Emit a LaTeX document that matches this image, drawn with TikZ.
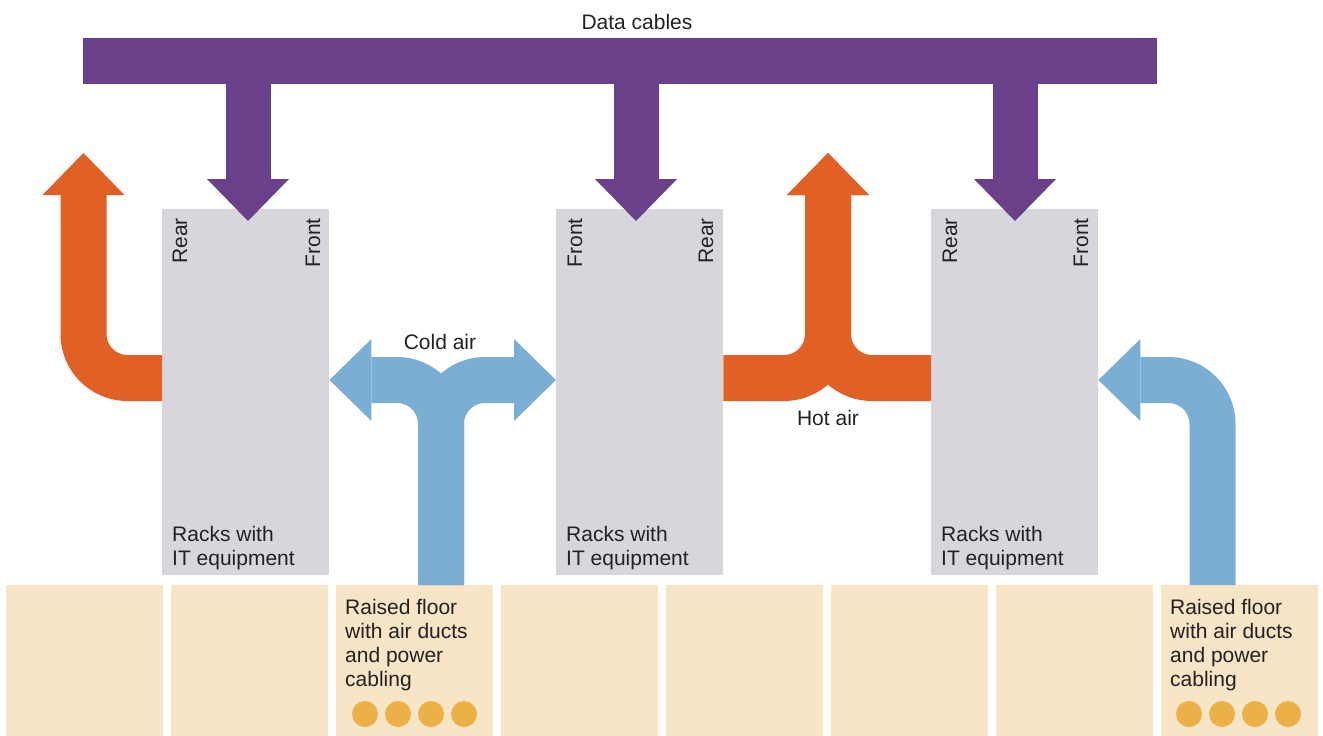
\documentclass[tikz,border=0pt]{standalone}
\usepackage{fontspec}
\setmainfont{Liberation Sans}
\usetikzlibrary{arrows.meta}
\definecolor{cablepurple}{HTML}{6A408A}
\definecolor{hotorange}{HTML}{E06026}
\definecolor{coldblue}{HTML}{7BAED5}
\definecolor{rackgray}{HTML}{D6D6DC}
\definecolor{floorbeige}{HTML}{F7E5C6}
\definecolor{cabledot}{HTML}{ECB146}
\definecolor{textblack}{HTML}{222222}
\tikzset{
  rack/.style={fill=rackgray, minimum width=167pt, minimum height=366pt, anchor=north west, inner sep=0pt},
  tile/.style={fill=floorbeige, minimum width=157pt, minimum height=151pt, anchor=north west, inner sep=0pt},
  fatarrow/.style={line width=#1, rounded corners=44pt, -{Triangle[length=42pt,width=82pt,line width=0pt]}},
  hotair/.style={hotorange, fatarrow=46pt},
  coldair/.style={coldblue, fatarrow=46pt},
  cables/.style={cablepurple, fatarrow=45pt},
  tag/.style={inner sep=0pt, text=textblack}
}
\begin{document}
\begin{tikzpicture}[x=1pt,y=-1pt,font=\fontsize{21}{24}\selectfont]
  \useasboundingbox (0,0) rectangle (1323,736);
  \foreach \i in {0,...,7}
    \node[tile] (tile\i) at (6+165*\i,585) {};
  \node[rack] (rackA) at (162,209) {};
  \node[rack] (rackB) at (556,209) {};
  \node[rack] (rackC) at (931,209) {};
  \fill[cablepurple] (83,38) rectangle (1157,84);
  \foreach \x in {248,636,1015}
    \draw[cables] (\x,61) -- (\x,221);
  \draw[hotair] (rackA.west |- 0,378) -- (83.5,378) -- (83.5,153);
  \draw[hotair] (rackB.east |- 0,378) -- (828,378) -- (828,153);
  \draw[hotair] (rackC.west |- 0,378) -- (828,378) -- (828,153);
  \draw[coldair] (tile2.north -| 441,0) -- (441,380) -- (rackA.east |- 0,380);
  \draw[coldair] (tile2.north -| 441,0) -- (441,380) -- (rackB.west |- 0,380);
  \draw[coldair] (tile7.north -| 1212.5,0) -- (1212.5,380) -- (rackC.east |- 0,380);
  \foreach \x in {365,398,431,464,1189,1222,1255,1288}
    \fill[cabledot] (\x,714) circle (13pt);
  \node[tag] (cablesLabel) at (637,29) [anchor=base] {Data cables};
  \node[tag] (coldLabel) at (440,349) [anchor=base] {Cold air};
  \node[tag] (hotLabel) at (828,425) [anchor=base] {Hot air};
  \node[tag, rotate=90] (rearA) at (187,218) [anchor=base east] {Rear};
  \node[tag, rotate=90] (frontA) at (320,218) [anchor=base east] {Front};
  \node[tag, rotate=90] (frontB) at (582,218) [anchor=base east] {Front};
  \node[tag, rotate=90] (rearB) at (713,218) [anchor=base east] {Rear};
  \node[tag, rotate=90] (rearC) at (957,218) [anchor=base east] {Rear};
  \node[tag, rotate=90] (frontC) at (1088,218) [anchor=base east] {Front};
  \node[tag, align=left] (itA) at (172,565) [anchor=base west] {Racks with\\IT equipment};
  \node[tag, align=left] (itB) at (566,565) [anchor=base west] {Racks with\\IT equipment};
  \node[tag, align=left] (itC) at (941,565) [anchor=base west] {Racks with\\IT equipment};
  \node[tag, align=left] (floorA) at (345,686) [anchor=base west] {Raised floor\\with air ducts\\and power\\cabling};
  \node[tag, align=left] (floorB) at (1170,686) [anchor=base west] {Raised floor\\with air ducts\\and power\\cabling};
\end{tikzpicture}
\end{document}
